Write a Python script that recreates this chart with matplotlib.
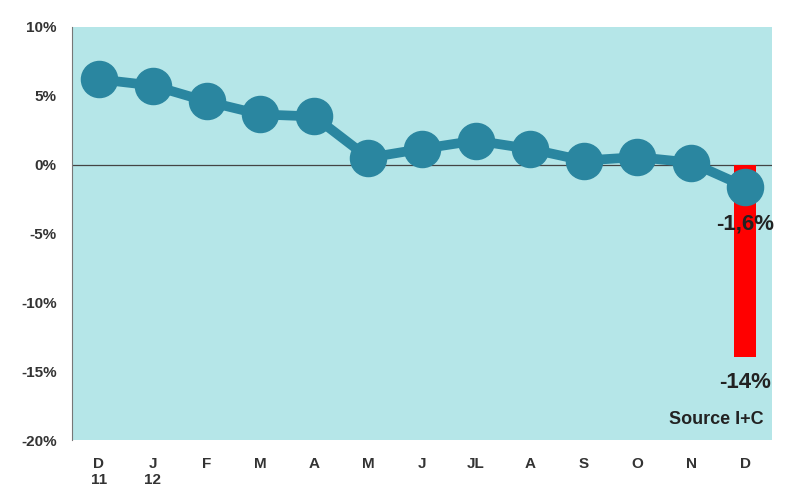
import matplotlib.pyplot as plt

# monthly values (%)
months = ['D\n11', 'J\n12', 'F', 'M', 'A', 'M', 'J', 'JL', 'A', 'S', 'O', 'N', 'D']
values = [6.2, 5.75, 4.6, 3.65, 3.5, 0.5, 1.15, 1.75, 1.15, 0.3, 0.55, 0.15, -1.6]
bar_value = -14
y_ticks = [10, 5, 0, -5, -10, -15, -20]

line_color = '#2a86a0'
bg_color = '#b5e6e8'
text_color = '#333333'

plt.rcParams['font.family'] = ['Liberation Sans', 'DejaVu Sans']

fig = plt.figure(figsize=(8, 4.92), dpi=100)
ax = fig.add_axes([72 / 800, 1 - 440 / 492, 700 / 800, 413 / 492])
ax.set_facecolor(bg_color)

x = list(range(len(months)))

# red bar on the last month
ax.bar(x[-1], bar_value, width=0.42, color='#ff0000', zorder=2)
ax.axhline(0, color='#444444', linewidth=0.9, zorder=1)
ax.plot(x, values, color=line_color, linewidth=7, marker='o', markersize=26,
        zorder=3)

ax.set_xlim(-0.5, len(months) - 0.5)
ax.set_ylim(-20, 10)
ax.set_yticks(y_ticks)
ax.set_yticklabels([f'{t}%' for t in y_ticks])
ax.set_xticks(x)
ax.set_xticklabels(months)

for s in ['top', 'right', 'bottom']:
    ax.spines[s].set_visible(False)
ax.spines['left'].set_color('#777777')
ax.tick_params(axis='both', length=0, colors=text_color, labelsize=11)
ax.tick_params(axis='y', pad=11)
ax.tick_params(axis='x', pad=12)
for lbl in ax.get_xticklabels() + ax.get_yticklabels():
    lbl.set_fontweight('bold')
    lbl.set_color(text_color)

ax.text(x[-1], -4.3, '-1,6%', ha='center', va='center', fontsize=16,
        fontweight='bold', color='#222222', zorder=4)
ax.text(x[-1], -15.8, '-14%', ha='center', va='center', fontsize=16,
        fontweight='bold', color='#222222')
ax.text(x[-1] + 0.35, -18.5, 'Source I+C', ha='right', va='center', fontsize=13,
        fontweight='bold', color='#222222')

fig.savefig('out.png', dpi=100)
